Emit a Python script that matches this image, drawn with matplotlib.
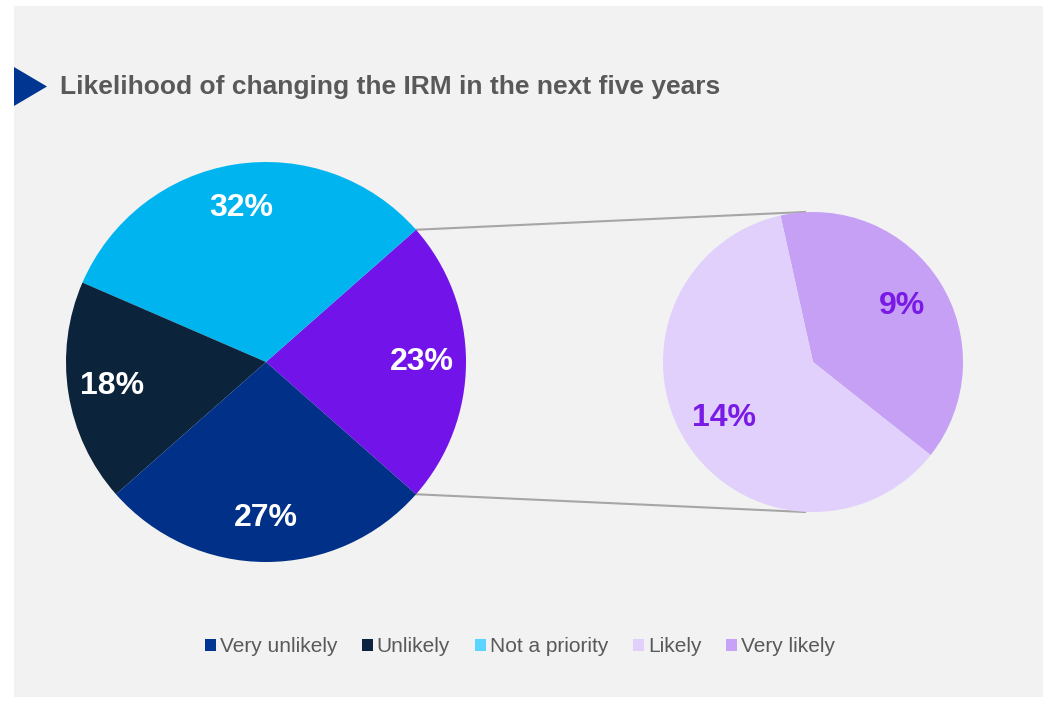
import numpy as np
import matplotlib
matplotlib.use("Agg")
import matplotlib.pyplot as plt
from matplotlib.patches import Rectangle, Polygon, Patch

plt.rcParams['font.family'] = ['Liberation Sans', 'DejaVu Sans']

# Main pie: the "Likely" group is shown as one wedge and split out on the right
main_labels = ["Likely (all)", "Not a priority", "Unlikely", "Very unlikely"]
main_values = [23, 32, 18, 27]
main_colors = ["#7213ea", "#00b5ef", "#0c233c", "#003087"]

# Breakdown of the grouped wedge
sub_labels = ["Very likely", "Likely"]
sub_values = [9, 14]
sub_colors = ["#c5a0f5", "#e1d0fb"]
sub_text_color = "#7a1ae6"

legend_labels = ["Very unlikely", "Unlikely", "Not a priority", "Likely", "Very likely"]
legend_colors = ["#003591", "#0c2340", "#5ad5ff", "#e1d0fb", "#c7a3f7"]

title = "Likelihood of changing the IRM in the next five years"

W, H = 1043, 701
fig = plt.figure(figsize=(W / 100, H / 100), dpi=100)
fig.patch.set_facecolor("white")
ax = fig.add_axes([0, 0, 1, 1])

# light grey panel
ax.add_patch(Rectangle((14, 4), W - 14, 691, facecolor="#f2f2f2", edgecolor="none", zorder=0))

# title with arrow marker
ax.add_patch(Polygon([(14, H - 67), (14, H - 106), (47, H - 86.5)], closed=True,
                     facecolor="#003591", edgecolor="none", zorder=1))
ax.text(60, H - 87, title, fontsize=19, fontweight="bold", color="#595959",
        ha="left", va="center")

# left pie
c1 = (266, H - 362)
r1 = 200
start1 = -main_values[0] / 100 * 360 / 2
wedges1, _, autotexts1 = ax.pie(main_values, colors=main_colors, startangle=start1,
                                center=c1, radius=r1, autopct="%d%%", pctdistance=0.78,
                                wedgeprops=dict(linewidth=0), frame=True)
for t in autotexts1:
    t.set_color("white")
    t.set_fontsize(23)
    t.set_fontweight("bold")

# right pie
c2 = (813, H - 362)
r2 = 150
total_sub = sum(sub_values)
wedges2, _, autotexts2 = ax.pie(sub_values, colors=sub_colors, startangle=102.5,
                                counterclock=False, center=c2, radius=r2,
                                autopct=lambda p: "%d%%" % round(p * total_sub / 100),
                                pctdistance=0.7, wedgeprops=dict(linewidth=0), frame=True)
for t in autotexts2:
    t.set_color(sub_text_color)
    t.set_fontsize(23)
    t.set_fontweight("bold")

ax.set_xlim(0, W)
ax.set_ylim(0, H)
ax.set_aspect("equal")
ax.axis("off")

# connector lines from the grouped wedge to the breakdown pie
w = wedges1[0]
for ang, sign in [(w.theta2, 1), (w.theta1, -1)]:
    x0 = c1[0] + r1 * np.cos(np.radians(ang))
    y0 = c1[1] + r1 * np.sin(np.radians(ang))
    x1 = c2[0] - 8
    y1 = c2[1] + sign * r2
    ax.plot([x0, x1], [y0, y1], color="#a6a6a6", linewidth=1.5, zorder=0.5)

handles = [Patch(facecolor=c, edgecolor="none") for c in legend_colors]
ax.legend(handles, legend_labels, loc="center", bbox_to_anchor=(520 / W, 54 / H),
          bbox_transform=fig.transFigure, ncol=5, frameon=False, fontsize=15,
          handlelength=0.5, handleheight=0.5, handletextpad=0.2, columnspacing=1.2,
          labelcolor="#595959")

fig.savefig("out.png", dpi=100, facecolor=fig.get_facecolor())
